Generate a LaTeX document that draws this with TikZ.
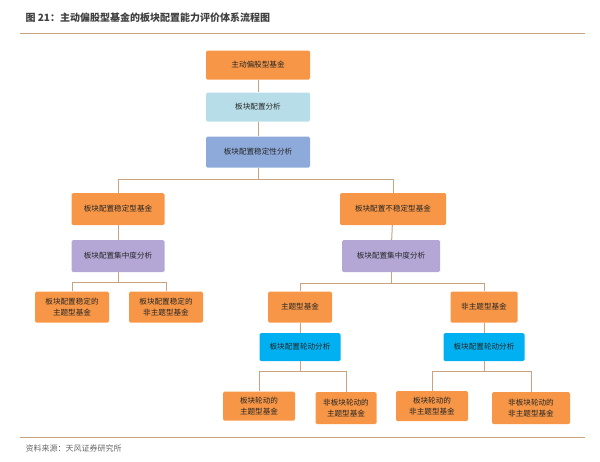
\documentclass[tikz,border=0pt]{standalone}
\usepackage{fontspec}
\setmainfont{Noto Sans CJK SC}
\usepackage{tikz}
\usetikzlibrary{positioning}
\definecolor{boxorange}{HTML}{F79646}
\definecolor{boxlight}{HTML}{B7DEE8}
\definecolor{boxsteel}{HTML}{8EAADB}
\definecolor{boxpurple}{HTML}{B4A7D6}
\definecolor{boxcyan}{HTML}{00B0F0}
\definecolor{linebrown}{HTML}{C9A27E}
\tikzstyle{box} = [rectangle, rounded corners=1.5pt, minimum height=29pt, align=center, font=\fontsize{7.6}{11}\selectfont, text=black!85]
\tikzstyle{fund} = [box, fill=boxorange]
\tikzstyle{link} = [draw=linebrown, line width=1pt]
\begin{document}
\begin{tikzpicture}[x=1pt, y=-1pt]
		\useasboundingbox (0,0) rectangle (600,461);
		\node [anchor=west, font=\fontsize{10}{11}\selectfont\bfseries, text=black!75] (Title) at (22,18) {图 21：主动偏股型基金的板块配置能力评价体系流程图};
		\draw [linebrown, line width=0.8pt] (20,33) -- (585,33);
		\draw [linebrown, line width=0.8pt] (20,437) -- (585,437);
		\node [anchor=west, font=\fontsize{8}{9}\selectfont, text=black!60] (Source) at (22,448) {资料来源：天风证券研究所};

		\node (Fund) [fund, minimum width=104pt] at (258,65) {主动偏股型基金};
		\node (Sector) [box, fill=boxlight, minimum width=104pt] at (258,107) {板块配置分析};
		\node (Stability) [box, fill=boxsteel, minimum width=104pt, minimum height=31pt] at (258,152) {板块配置稳定性分析};

		\node (Stable) [fund, minimum width=93pt, minimum height=32pt] at (118,209) {板块配置稳定型基金};
		\node (Unstable) [fund, minimum width=106pt, minimum height=32pt] at (393,209) {板块配置不稳定型基金};
		\node (ConcL) [box, fill=boxpurple, minimum width=93pt, minimum height=32pt] at (118,256) {板块配置集中度分析};
		\node (ConcR) [box, fill=boxpurple, minimum width=98pt, minimum height=32pt] at (391,256) {板块配置集中度分析};

		\node (StableTheme) [fund, minimum width=74pt, minimum height=31pt] at (72,307) {板块配置稳定的\\主题型基金};
		\node (StableOther) [fund, minimum width=74pt, minimum height=31pt] at (166,307) {板块配置稳定的\\非主题型基金};
		\node (Theme) [fund, minimum width=64pt, minimum height=31pt] at (300,307) {主题型基金};
		\node (Other) [fund, minimum width=67pt, minimum height=31pt] at (484,307) {非主题型基金};

		\node (RotL) [box, fill=boxcyan, minimum width=81pt, minimum height=28pt] at (300,347) {板块配置轮动分析};
		\node (RotR) [box, fill=boxcyan, minimum width=81pt, minimum height=28pt] at (484,347) {板块配置轮动分析};

		\node (RotTheme) [fund, minimum width=72pt, minimum height=29pt] at (259,406) {板块轮动的\\主题型基金};
		\node (NoRotTheme) [fund, minimum width=61pt, minimum height=32pt] at (346,408) {非板块轮动的\\主题型基金};
		\node (RotOther) [fund, minimum width=72pt, minimum height=30pt] at (432,406) {板块轮动的\\非主题型基金};
		\node (NoRotOther) [fund, minimum width=78pt, minimum height=32pt] at (531,408) {非板块轮动的\\非主题型基金};

		\draw [link] (Fund) -- (Sector);
		\draw [link] (Sector) -- (Stability);
		\draw [link] (Stability.south) -- ++(0,12) -| (Stable.north);
		\draw [link] (Stability.south) ++(0,12) -| (Unstable.north);
		\draw [link] (Stable) -- (ConcL);
		\draw [link] (Unstable) -- (ConcR);
		\draw [link] (ConcL.south) -- ++(0,10) -| (StableTheme.north);
		\draw [link] (ConcL.south) ++(0,10) -| (StableOther.north);
		\draw [link] (ConcR.south) -- ++(0,11) -| (Theme.north);
		\draw [link] (ConcR.south) ++(0,11) -| (Other.north);
		\draw [link] (Theme) -- (RotL);
		\draw [link] (Other) -- (RotR);
		\draw [link] (RotL.south) -- ++(0,10) -| (RotTheme.north);
		\draw [link] (RotL.south) ++(0,10) -| (NoRotTheme.north);
		\draw [link] (RotR.south) -- ++(0,10) -| (RotOther.north);
		\draw [link] (RotR.south) ++(0,10) -| (NoRotOther.north);
\end{tikzpicture}
\end{document}
